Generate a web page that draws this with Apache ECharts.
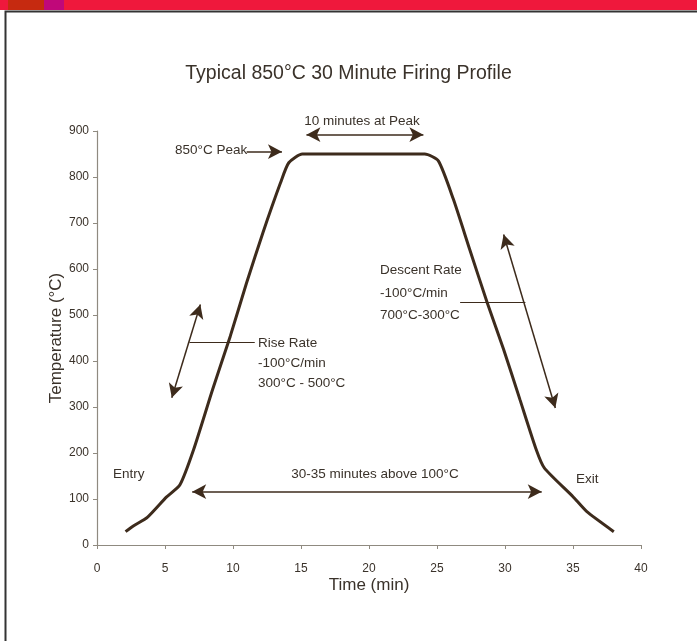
<!DOCTYPE html>
<html>
<head>
<meta charset="utf-8">
<script src="https://cdn.jsdelivr.net/npm/echarts@6/dist/echarts.min.js"></script>
<style>
  html, body { margin: 0; padding: 0; background: #fff; }
  #main { width: 697px; height: 641px; }
</style>
</head>
<body>
<div id="main"></div>
<script>
// profile: time (min) vs temperature (°C)
var timeMin = [2.1, 2.7, 3.7, 5.1, 6.1, 7.1, 8.5, 9.8, 11.0, 12.2, 13.5, 14.1, 15.1, 24.1, 25.1, 26.2, 27.4, 28.7, 29.9, 31.1, 32.3, 32.9, 35.0, 36.0, 38.0];
var tempC = [29, 42, 60, 104, 131, 207, 338, 454, 570, 679, 788, 831, 850, 850, 835, 752, 643, 526, 425, 316, 207, 167, 105, 73, 29];

var xTicks = [0, 5, 10, 15, 20, 25, 30, 35, 40];
var yTicks = [0, 100, 200, 300, 400, 500, 600, 700, 800, 900];

var ink = '#3d2b1c';
var textCol = '#3a322a';
var font = '"Liberation Sans", Arial, sans-serif';

var points = [];
for (var i = 0; i < timeMin.length; i++) {
    points.push([timeMin[i], tempC[i]]);
}

// annotation arrows, in data coordinates
function arrow(a, b, both) {
    return [
        { coord: a, symbol: both ? 'arrow' : 'none' },
        { coord: b, symbol: 'arrow' }
    ];
}
function rule(a, b) {
    return [
        { coord: a, symbol: 'none', lineStyle: { width: 1.2 } },
        { coord: b, symbol: 'none' }
    ];
}

function txt(x, y, s, align) {
    return {
        type: 'text', x: x, y: y,
        style: {
            text: s, fill: textCol, font: '13.5px ' + font,
            textAlign: align || 'left', textVerticalAlign: 'middle'
        }
    };
}

var myChart = echarts.init(document.getElementById('main'));

var option = {
    backgroundColor: '#fff',
    animation: false,
    title: {
        text: 'Typical 850°C 30 Minute Firing Profile',
        left: 'center',
        top: 59,
        textStyle: { color: textCol, fontSize: 19.5, fontWeight: 'normal', fontFamily: font }
    },
    grid: { left: 97, right: 56, top: 131, bottom: 96 },
    xAxis: {
        type: 'value',
        min: xTicks[0],
        max: xTicks[xTicks.length - 1],
        interval: 5,
        name: 'Time (min)',
        nameLocation: 'middle',
        nameGap: 32,
        nameMoveOverlap: false,
        nameTextStyle: { color: textCol, fontSize: 17, fontFamily: font },
        axisLine: { lineStyle: { color: '#8f8a80', width: 1.2 } },
        axisTick: { length: 4, lineStyle: { color: '#8f8a80' } },
        axisLabel: { color: textCol, fontSize: 12, fontFamily: font, margin: 18 },
        splitLine: { show: false }
    },
    yAxis: {
        type: 'value',
        min: yTicks[0],
        max: yTicks[yTicks.length - 1],
        interval: 100,
        name: 'Temperature (°C)',
        nameLocation: 'middle',
        nameGap: 32,
        nameMoveOverlap: false,
        nameTextStyle: { color: textCol, fontSize: 17, fontFamily: font },
        axisLine: { show: true, lineStyle: { color: '#8f8a80', width: 1.2 } },
        axisTick: { show: true, length: 4, lineStyle: { color: '#8f8a80' } },
        axisLabel: { color: textCol, fontSize: 12, fontFamily: font, margin: 8 },
        splitLine: { show: false }
    },
    series: [{
        type: 'line',
        data: points,
        smooth: 0.2,
        showSymbol: false,
        clip: false,
        lineStyle: { color: ink, width: 3 },
        markLine: {
            silent: true,
            symbolSize: [11, 14],
            label: { show: false },
            lineStyle: { color: ink, width: 1.5, type: 'solid' },
            data: [
                arrow([15.4, 892], [24.0, 892], true),
                arrow([11.0, 855], [13.6, 855], false),
                arrow([5.5, 320], [7.6, 523], true),
                rule([6.8, 441], [11.6, 441]),
                arrow([29.9, 675], [33.7, 298], true),
                rule([26.7, 527], [31.5, 527]),
                arrow([7.0, 116], [32.7, 116], true)
            ]
        }
    }],
    graphic: [
        // red header bar and frame of the slide
        { type: 'rect', shape: { x: 0, y: 0, width: 697, height: 10 }, style: { fill: '#ef183c' } },
        { type: 'rect', shape: { x: 8, y: 0, width: 36, height: 10 }, style: { fill: '#c62a10' } },
        { type: 'rect', shape: { x: 44, y: 0, width: 20, height: 10 }, style: { fill: '#c0087a' } },
        { type: 'rect', shape: { x: 5.5, y: 11.5, width: 700, height: 640 }, style: { fill: 'none', stroke: '#333', lineWidth: 2 } },
        txt(362, 121, '10 minutes at Peak', 'center'),
        txt(175, 150, '850°C Peak'),
        txt(258, 343, 'Rise Rate'),
        txt(258, 363, '-100°C/min'),
        txt(258, 383, '300°C - 500°C'),
        txt(380, 270, 'Descent Rate'),
        txt(380, 293, '-100°C/min'),
        txt(380, 315, '700°C-300°C'),
        txt(113, 474, 'Entry'),
        txt(576, 479, 'Exit'),
        txt(375, 474, '30-35 minutes above 100°C', 'center')
    ]
};

myChart.setOption(option);
</script>
</body>
</html>
